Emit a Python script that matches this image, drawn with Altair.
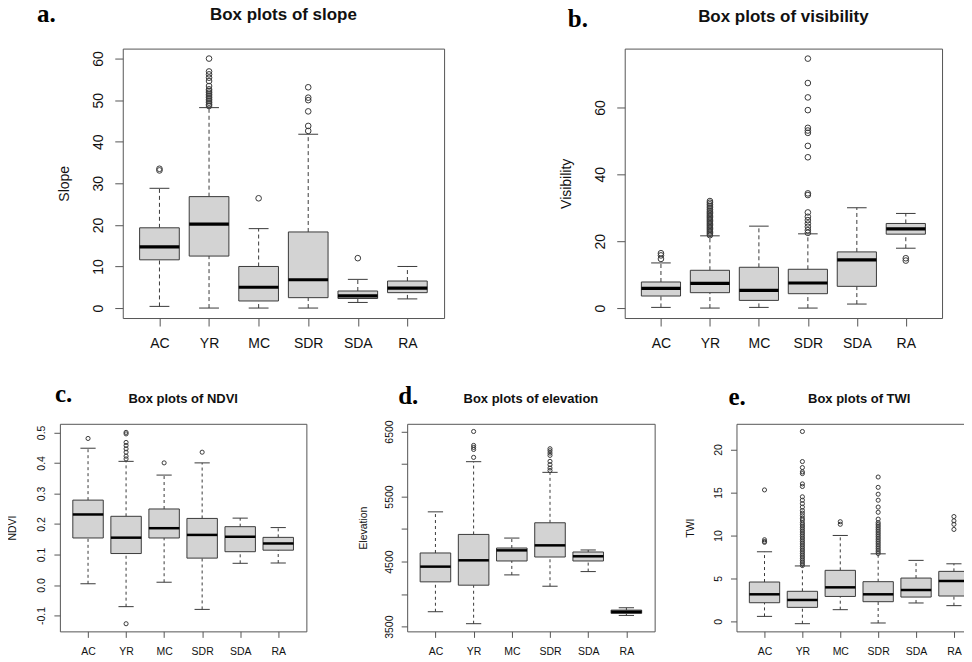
import altair as alt
import pandas as pd

CATS = ["AC", "YR", "MC", "SDR", "SDA", "RA"]

# ---------------- (a) Slope ----------------
slope_lo = [0.4, 0.0, 0.0, 0.0, 1.35, 2.2]
slope_q1 = [11.6, 12.5, 1.7, 2.5, 2.3, 3.7]
slope_med = [14.7, 20.2, 5.0, 6.8, 2.95, 4.8]
slope_q3 = [19.3, 26.8, 10.0, 18.3, 4.1, 6.5]
slope_hi = [28.8, 48.2, 19.1, 41.8, 6.9, 10.0]
slope_out = {
    "AC": [33.1, 33.5],
    "YR": [48.6, 49.0, 49.4, 49.8, 50.2, 50.6, 51.0, 51.4, 51.8, 52.2, 52.6,
           53.4, 54.6, 55.4, 56.2, 56.9, 60.0],
    "MC": [26.4],
    "SDR": [42.6, 43.8, 47.3, 50.0, 50.6, 53.1],
    "SDA": [12.0],
    "RA": [],
}

# ---------------- (b) Visibility ----------------
vis_lo = [0.2, 0.0, 0.2, 0.0, 1.2, 17.9]
vis_q1 = [3.6, 4.6, 2.3, 4.3, 6.5, 22.1]
vis_med = [5.9, 7.4, 5.3, 7.5, 14.4, 23.7]
vis_q3 = [7.8, 11.3, 12.2, 11.6, 16.8, 25.3]
vis_hi = [13.5, 21.6, 24.5, 22.2, 30.0, 28.3]
vis_out = {
    "AC": [14.7, 15.75, 16.4],
    "YR": [21.8, 22.2, 22.6, 23.0, 23.4, 23.8, 24.2, 24.6, 25.0, 25.4, 25.8,
           26.2, 26.6, 27.0, 27.4, 27.8, 28.2, 28.6, 29.0, 29.5, 30.0, 30.5,
           31.0, 31.5, 32.0],
    "MC": [],
    "SDR": [22.5, 23.3, 24.3, 25.3, 26.3, 27.3, 28.6, 33.8, 34.3, 45.1, 48.5,
            52.4, 53.1, 53.9, 59.2, 63.0, 67.3, 74.6],
    "SDA": [],
    "RA": [14.2, 14.9],
}

# ---------------- (c) NDVI ----------------
ndvi_lo = [0.004, -0.071, 0.009, -0.080, 0.071, 0.072]
ndvi_q1 = [0.154, 0.103, 0.154, 0.088, 0.109, 0.114]
ndvi_med = [0.231, 0.155, 0.186, 0.164, 0.158, 0.136]
ndvi_q3 = [0.278, 0.225, 0.249, 0.218, 0.191, 0.156]
ndvi_hi = [0.448, 0.405, 0.360, 0.400, 0.219, 0.188]
ndvi_out = {
    "AC": [0.480],
    "YR": [-0.127, 0.413, 0.422, 0.435, 0.446, 0.457, 0.467, 0.495, 0.500],
    "MC": [0.400],
    "SDR": [0.435],
    "SDA": [],
    "RA": [],
}

# ---------------- (d) Elevation ----------------
elev_lo = [3730, 3546, 4296, 4122, 4347, 3673]
elev_q1 = [4189, 4138, 4510, 4571, 4510, 3704]
elev_med = [4423, 4520, 4673, 4750, 4582, 3730]
elev_q3 = [4633, 4918, 4709, 5097, 4648, 3755]
elev_hi = [5265, 6036, 4862, 5872, 4679, 3791]
elev_out = {
    "AC": [],
    "YR": [6102, 6224, 6255, 6286, 6500],
    "MC": [],
    "SDR": [5900, 5939, 5990, 6041, 6133, 6168, 6204, 6235],
    "SDA": [],
    "RA": [],
}

# ---------------- (e) TWI ----------------
twi_lo = [0.58, -0.27, 1.36, -0.19, 2.14, 1.83]
twi_q1 = [2.17, 1.63, 2.90, 2.29, 2.83, 2.95]
twi_med = [3.15, 2.49, 3.96, 3.15, 3.65, 4.70]
twi_q3 = [4.58, 3.50, 5.94, 4.62, 5.04, 5.82]
twi_hi = [8.10, 6.45, 10.0, 7.86, 7.10, 6.70]
twi_out = {
    "AC": [9.2, 9.3, 9.5, 15.3],
    "YR": [6.5, 6.7, 6.9, 7.1, 7.3, 7.5, 7.7, 7.9, 8.1, 8.3, 8.5, 8.7, 8.9,
           9.1, 9.3, 9.5, 9.7, 9.9, 10.1, 10.3, 10.5, 10.7, 10.9, 11.1, 11.3,
           11.5, 11.8, 12.0, 12.3, 12.6, 12.9, 13.3, 13.7, 14.1, 14.5, 15.7,
           16.0, 17.2, 17.4, 17.9, 18.6, 22.1],
    "MC": [11.3, 11.6],
    "SDR": [7.9, 8.1, 8.3, 8.5, 8.7, 8.9, 9.1, 9.3, 9.5, 9.7, 9.9, 10.1,
            10.3, 10.5, 10.7, 10.9, 11.1, 11.3, 11.5, 11.9, 12.7, 13.3, 14.1,
            14.8, 15.6, 16.8],
    "SDA": [],
    "RA": [10.7, 11.3, 11.7, 12.2],
}

FONT = "Liberation Sans"
SERIF = "Liberation Serif"
EDGE = "#3a3a3a"
FRAME = "#555555"
TXT = "#111111"
BOXFILL = "#d3d3d3"
XDOM = [0.26, 6.74]
XLABEL_EXPR = "[" + ",".join("'%s'" % c for c in CATS) + "][datum.value - 1]"


def make_panel(lo, q1, med, q3, hi, out, ydom, yticks, ytitle, title, letter,
               W, H, big, title_y, letter_x, letter_y, ytitle_x,
               yfmt=None, ylabel_expr=None):
    stats = pd.DataFrame({"cat": CATS, "idx": list(range(1, 7)),
                          "lo": lo, "q1": q1, "med": med, "q3": q3, "hi": hi})
    orows = [(i + 1, c, v) for i, c in enumerate(CATS) for v in out[c]]
    odf = pd.DataFrame(orows, columns=["idx", "cat", "val"])

    if big:
        fs, tfs, tick, ylp, xlp, msw, osz, dash = 14, 17, 8, 12, 22, 3.2, 32, [4, 3]
    else:
        fs, tfs, tick, ylp, xlp, msw, osz, dash = 10.5, 13, 6, 9, 17, 2.5, 17, [3, 3]

    xs = alt.Scale(domain=XDOM, nice=False, zero=False)
    ys = alt.Scale(domain=ydom, nice=False, zero=False)
    xaxis = alt.Axis(values=[1, 2, 3, 4, 5, 6], labelExpr=XLABEL_EXPR,
                     domain=False, grid=False, tickSize=tick, tickColor=FRAME,
                     tickWidth=1, labelFont=FONT, labelFontSize=fs,
                     labelColor=TXT, labelPadding=xlp,
                     labelBaseline="alphabetic", labelAngle=0, title=None)
    yargs = dict(values=yticks, domain=False, grid=False, tickSize=tick,
                 tickColor=FRAME, tickWidth=1, labelFont=FONT,
                 labelFontSize=fs, labelColor=TXT, labelPadding=ylp,
                 labelAngle=270, labelAlign="center",
                 labelBaseline="alphabetic", title=ytitle, titleFont=FONT,
                 titleFontSize=fs, titleFontWeight="normal", titleColor=TXT,
                 titleAngle=270, titleAlign="center",
                 titleBaseline="alphabetic", titleX=ytitle_x, titleY=H / 2)
    if yfmt:
        yargs["format"] = yfmt
    if ylabel_expr:
        yargs["labelExpr"] = ylabel_expr
    yaxis = alt.Axis(**yargs)

    def X(f):
        return alt.X(f"{f}:Q", scale=xs, axis=xaxis, title=None)

    def Y(f):
        return alt.Y(f"{f}:Q", scale=ys, axis=yaxis, title=ytitle)

    base = alt.Chart(stats)
    caps = base.transform_calculate(cl="datum.idx - 0.2", cr="datum.idx + 0.2")
    boxes = base.transform_calculate(xl="datum.idx - 0.4", xr="datum.idx + 0.4")

    w_low = base.mark_rule(color=EDGE, strokeWidth=1, strokeDash=dash).encode(
        x=X("idx"), y=Y("lo"), y2="q1")
    w_high = base.mark_rule(color=EDGE, strokeWidth=1, strokeDash=dash).encode(
        x=X("idx"), y=Y("q3"), y2="hi")
    c_low = caps.mark_rule(color=EDGE, strokeWidth=1).encode(
        x=X("cl"), x2="cr", y=Y("lo"))
    c_high = caps.mark_rule(color=EDGE, strokeWidth=1).encode(
        x=X("cl"), x2="cr", y=Y("hi"))
    box = boxes.mark_rect(fill=BOXFILL, stroke=EDGE, strokeWidth=1).encode(
        x=X("xl"), x2="xr", y=Y("q1"), y2="q3")
    median = boxes.mark_rule(color="#000000", strokeWidth=msw).encode(
        x=X("xl"), x2="xr", y=Y("med"))
    outl = alt.Chart(odf).mark_point(shape="circle", filled=False, color=EDGE,
                                     size=osz, strokeWidth=1, opacity=1).encode(
        x=X("idx"), y=Y("val"))

    ttl = alt.Chart(pd.DataFrame({"t": [title]})).mark_text(
        font=FONT, fontSize=tfs, fontWeight="bold", align="center",
        baseline="alphabetic", color=TXT).encode(
        x=alt.value(W / 2), y=alt.value(title_y), text="t:N")
    let = alt.Chart(pd.DataFrame({"t": [letter]})).mark_text(
        font=SERIF, fontSize=25, fontWeight="bold", align="left",
        baseline="alphabetic", color="#000000").encode(
        x=alt.value(letter_x), y=alt.value(letter_y), text="t:N")

    return alt.layer(w_low, w_high, c_low, c_high, box, median, outl, ttl, let).properties(
        width=W, height=H,
        view=alt.ViewBackground(stroke=FRAME, strokeWidth=1))


def spacer(w, h):
    return alt.Chart(pd.DataFrame({"v": [0]})).mark_point(opacity=0).encode(
        x=alt.value(0), y=alt.value(0)).properties(width=w, height=h)


TOP_H, BOT_H = 270, 208

pa = make_panel(slope_lo, slope_q1, slope_med, slope_q3, slope_hi, slope_out,
                [-2.4, 62.4], [0, 10, 20, 30, 40, 50, 60], "Slope",
                "Box plots of slope", "a.", 322, TOP_H, True,
                title_y=-28.6, letter_x=-86, letter_y=-26.8, ytitle_x=-54)
pb = make_panel(vis_lo, vis_q1, vis_med, vis_q3, vis_hi, vis_out,
                [-2.98, 77.6], [0, 20, 40, 60], "Visibility",
                "Box plots of visibility", "b.", 318, TOP_H, True,
                title_y=-27, letter_x=-57, letter_y=-21.5, ytitle_x=-54)
pc = make_panel(ndvi_lo, ndvi_q1, ndvi_med, ndvi_q3, ndvi_hi, ndvi_out,
                [-0.152, 0.528], [-0.1, 0.0, 0.1, 0.2, 0.3, 0.4, 0.5], "NDVI",
                "Box plots of NDVI", "c.", 247, BOT_H, False,
                title_y=-20.5, letter_x=-5, letter_y=-21.7, ytitle_x=-44,
                yfmt=".1f", ylabel_expr="replace(datum.label, '\u2212', '-')")
pd_ = make_panel(elev_lo, elev_q1, elev_med, elev_q3, elev_hi, elev_out,
                 [3428, 6618], [3500, 4000, 4500, 5000, 5500, 6000, 6500],
                 "Elevation", "Box plots of elevation", "d.", 248, BOT_H, False,
                 title_y=-21, letter_x=-9, letter_y=-20, ytitle_x=-41,
                 yfmt="d",
                 ylabel_expr="indexof([3500, 4500, 5500, 6500], datum.value) >= 0 ? datum.label : ''")
pe = make_panel(twi_lo, twi_q1, twi_med, twi_q3, twi_hi, twi_out,
                [-1.165, 22.995], [0, 5, 10, 15, 20], "TWI",
                "Box plots of TWI", "e.", 246, BOT_H, False,
                title_y=-20.5, letter_x=-8, letter_y=-19, ytitle_x=-43)

row1 = alt.hconcat(spacer(63, TOP_H), pa, spacer(181, TOP_H), pb,
                   spacing=0, bounds="flush")
row2 = alt.hconcat(pc, spacer(101, BOT_H), pd_, spacer(82, BOT_H), pe,
                   spacing=0, bounds="flush")

chart = alt.vconcat(row1, row2, spacing=376, bounds="flush").properties(
    padding={"left": -1, "top": -8, "right": -19, "bottom": 0},
    autosize=alt.AutoSizeParams(type="pad"),
).configure_view(stroke=None)

chart.save("out.html", embed_options={"renderer": "svg", "actions": False})
